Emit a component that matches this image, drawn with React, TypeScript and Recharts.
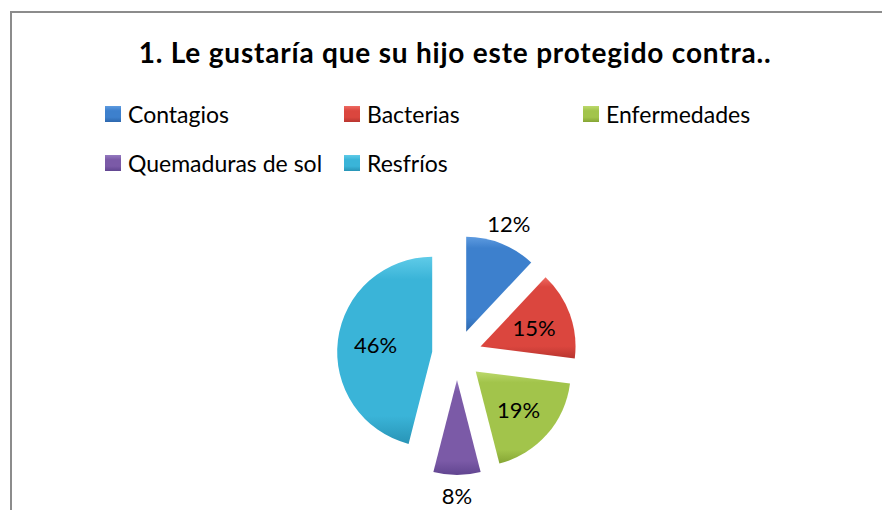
import React from 'react';
import { PieChart, Pie, Cell, Sector, Legend } from 'recharts';

const categories = ['Contagios', 'Bacterias', 'Enfermedades', 'Quemaduras de sol', 'Resfríos'];
const values = [12, 15, 19, 8, 46];
const colors = ['#3d80cd', '#db463e', '#a2c44b', '#7b5aa7', '#3ab4d8'];
const lightColors = ['#5e9be0', '#ee6a62', '#bcd96c', '#957ac0', '#5fcbe8'];
const darkColors = ['#2d67ad', '#b8352f', '#85a534', '#614590', '#2894b6'];
const title = '1. Le gustaría que su hijo este protegido contra..';

const data = categories.map((name, i) => ({ name, value: values[i] }));

const RAD = Math.PI / 180;
const EXPLODE = 25;
const FONT = 'Lato, "Open Sans", sans-serif';

const legendPos = [
  { x: 97, y: 94.6 },
  { x: 336, y: 94.6 },
  { x: 575, y: 94.6 },
  { x: 97, y: 143.6 },
  { x: 336, y: 143.6 },
];

const renderSlice = (props: any) => {
  const { cx, cy, midAngle, innerRadius, outerRadius, startAngle, endAngle, index, percent } = props;
  const ux = Math.cos(-midAngle * RAD);
  const uy = Math.sin(-midAngle * RAD);
  const ex = cx + EXPLODE * ux;
  const ey = cy + EXPLODE * uy;
  const inside = percent >= 0.13;
  const lr = inside ? outerRadius * 0.6 : outerRadius * 1.22;
  const lx = ex + lr * ux;
  const ly = ey + lr * uy;
  return (
    <g>
      <Sector
        cx={ex}
        cy={ey}
        innerRadius={innerRadius}
        outerRadius={outerRadius}
        startAngle={startAngle}
        endAngle={endAngle}
        fill={`url(#grad${index})`}
        fillOpacity={1}
        stroke="none"
      />
      <text
        x={lx}
        y={ly}
        textAnchor="middle"
        dominantBaseline="central"
        fill="#000"
        stroke="none"
        style={{ fontFamily: FONT, fontSize: 22 }}
      >
        {`${Math.round(percent * 100)}%`}
      </text>
    </g>
  );
};

const renderLegend = () => (
  <div style={{ position: 'relative', width: 874, height: 0 }}>
    {categories.map((name, i) => (
      <div
        key={i}
        style={{
          position: 'absolute',
          left: legendPos[i].x,
          top: legendPos[i].y,
          height: 23,
          lineHeight: '23px',
          whiteSpace: 'nowrap',
        }}
      >
        <div
          style={{
            position: 'absolute',
            left: 0,
            top: 3.4,
            width: 16,
            height: 16,
            background: `linear-gradient(${lightColors[i]}, ${colors[i]} 30%, ${colors[i]} 70%, ${darkColors[i]})`,
          }}
        />
        <span
          style={{
            position: 'absolute',
            left: 23,
            top: 0,
            fontFamily: FONT,
            fontSize: 23,
            lineHeight: '23px',
            color: '#000',
          }}
        >
          {name}
        </span>
      </div>
    ))}
  </div>
);

export default function App() {
  return (
    <div style={{ position: 'relative', width: 874, height: 502, overflow: 'hidden', background: '#fff' }}>
      <div
        style={{
          position: 'absolute',
          left: 2,
          top: 3,
          width: 1000,
          height: 1000,
          borderLeft: '2px solid #8c8c8c',
          borderTop: '2px solid #8c8c8c',
        }}
      />
      <div
        style={{
          position: 'absolute',
          left: 20,
          width: 854,
          top: 30.2,
          textAlign: 'center',
          fontFamily: FONT,
          fontWeight: 700,
          fontSize: 28,
          lineHeight: '28px',
          letterSpacing: 0.8,
          color: '#000',
          whiteSpace: 'nowrap',
        }}
      >
        {title}
      </div>
      <div style={{ position: 'absolute', left: 0, top: 0 }}>
        <PieChart width={874} height={502}>
          <defs>
            {colors.map((c, i) => (
              <linearGradient key={i} id={`grad${i}`} x1="0" y1="0" x2="0" y2="1">
                <stop offset="0%" stopColor={lightColors[i]} />
                <stop offset="12%" stopColor={c} />
                <stop offset="85%" stopColor={c} />
                <stop offset="100%" stopColor={darkColors[i]} />
              </linearGradient>
            ))}
          </defs>
          <Legend
            content={renderLegend}
            wrapperStyle={{ position: 'absolute', top: 0, left: 0, width: 874 }}
          />
          <Pie
            data={data}
            dataKey="value"
            nameKey="name"
            cx={444}
            cy={342}
            outerRadius={95}
            startAngle={90}
            endAngle={-270}
            isAnimationActive={false}
            label={renderSlice}
            labelLine={false}
            fillOpacity={0}
            stroke="none"
          >
            {data.map((d, i) => (
              <Cell key={i} fill={colors[i]} />
            ))}
          </Pie>
        </PieChart>
      </div>
    </div>
  );
}
